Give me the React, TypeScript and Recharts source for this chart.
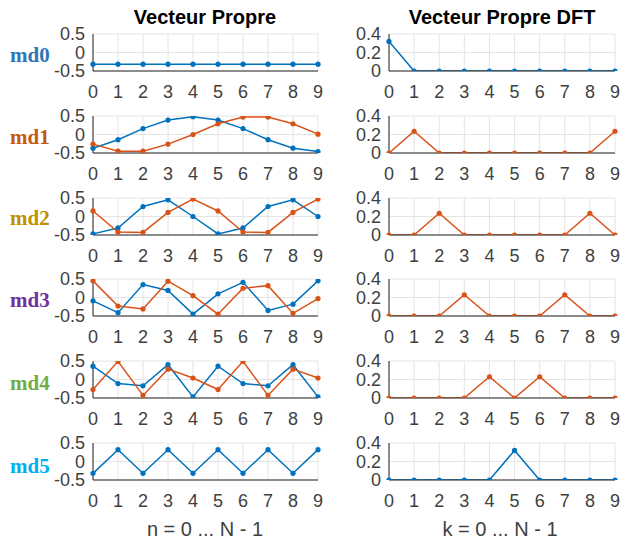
import { CartesianGrid, Line, LineChart, XAxis, YAxis } from "recharts";

// MATLAB default line colours
const BLUE = "#0072BD";
const ORANGE = "#D95319";
const AXIS = "#262626";
const TICK = "#404040";
const GRID = "#e4e4e4";
const SANS = "'Liberation Sans', Arial, Helvetica, sans-serif";
const SERIF = "'Liberation Serif', 'Times New Roman', serif";

const IDX = [0, 1, 2, 3, 4, 5, 6, 7, 8, 9];

const ROW_NAMES = ["md0", "md1", "md2", "md3", "md4", "md5"];
const ROW_COLORS = ["#2E75B6", "#C55A11", "#BF9000", "#7030A0", "#70AD47", "#00B0F0"];

const LEFT_TICKS = [-0.5, 0, 0.5];
const RIGHT_TICKS = [0, 0.2, 0.4];

// eigenvectors (left column)
const MD0_A = [-0.316, -0.316, -0.316, -0.316, -0.316, -0.316, -0.316, -0.316, -0.316, -0.316];
const MD1_A = [-0.37, -0.14, 0.16, 0.39, 0.48, 0.39, 0.16, -0.14, -0.37, -0.46];
const MD1_B = [-0.26, -0.45, -0.45, -0.26, 0, 0.29, 0.47, 0.47, 0.29, 0.01];
const MD2_A = [-0.47, -0.31, 0.27, 0.45, 0, -0.47, -0.31, 0.27, 0.45, 0];
const MD2_B = [0.15, -0.42, -0.43, 0.11, 0.47, 0.15, -0.42, -0.43, 0.11, 0.47];
const MD3_A = [-0.09, -0.41, 0.35, 0.19, -0.45, 0.1, 0.41, -0.35, -0.18, 0.45];
const MD3_B = [0.45, -0.23, -0.31, 0.44, 0.05, -0.45, 0.25, 0.32, -0.43, -0.03];
const MD4_A = [0.36, -0.11, -0.17, 0.4, -0.47, 0.36, -0.11, -0.17, 0.4, -0.47];
const MD4_B = [-0.27, 0.49, -0.43, 0.28, 0.04, -0.27, 0.49, -0.43, 0.28, 0.04];
const MD5_A = [-0.32, 0.32, -0.32, 0.32, -0.32, 0.32, -0.32, 0.32, -0.32, 0.32];

// |DFT| of the eigenvectors (right column)
const DFT0 = [0.32, 0, 0, 0, 0, 0, 0, 0, 0, 0];
const DFT1 = [0, 0.235, 0, 0, 0, 0, 0, 0, 0, 0.235];
const DFT2 = [0, 0, 0.235, 0, 0, 0, 0, 0, 0.235, 0];
const DFT3 = [0, 0, 0, 0.23, 0, 0, 0, 0.23, 0, 0];
const DFT4 = [0, 0, 0, 0, 0.23, 0, 0.23, 0, 0, 0];
const DFT5 = [0, 0, 0, 0, 0, 0.32, 0, 0, 0, 0];

type Series = { values: number[]; color: string };

const LEFT_SERIES: Series[][] = [
  [{ values: MD0_A, color: BLUE }],
  [{ values: MD1_A, color: BLUE }, { values: MD1_B, color: ORANGE }],
  [{ values: MD2_A, color: BLUE }, { values: MD2_B, color: ORANGE }],
  [{ values: MD3_A, color: BLUE }, { values: MD3_B, color: ORANGE }],
  [{ values: MD4_A, color: BLUE }, { values: MD4_B, color: ORANGE }],
  [{ values: MD5_A, color: BLUE }],
];

const RIGHT_SERIES: Series[][] = [
  [{ values: DFT0, color: BLUE }],
  [{ values: DFT1, color: ORANGE }],
  [{ values: DFT2, color: ORANGE }],
  [{ values: DFT3, color: ORANGE }],
  [{ values: DFT4, color: ORANGE }],
  [{ values: DFT5, color: BLUE }],
];

// layout
const ROW_TOP0 = 34;
const ROW_STEP = 81.8;
const PLOT_H = 37;
const L_X = 93;
const L_W = 225;
const R_X = 389;
const R_W = 226;
const Y_AXIS_W = 50;
const M_TOP = 14;
const M_RIGHT = 6;
const X_AXIS_H = 34;
const LABEL_BASE = [61.7, 144, 225, 306.7, 390, 472.7];

function SmallPlot({
  x,
  y,
  w,
  series,
  domain,
  yTicks,
}: {
  x: number;
  y: number;
  w: number;
  series: Series[];
  domain: [number, number];
  yTicks: number[];
}) {
  const data = IDX.map((n, i) => {
    const row: Record<string, number> = { n };
    series.forEach((s, j) => (row["s" + j] = s.values[i]));
    return row;
  });
  const tick = { fill: TICK, fontSize: 18, fontFamily: SANS };
  return (
    <div style={{ position: "absolute", left: x - Y_AXIS_W, top: y - M_TOP }}>
      <LineChart
        width={Y_AXIS_W + w + M_RIGHT}
        height={M_TOP + PLOT_H + X_AXIS_H}
        data={data}
        margin={{ top: M_TOP, right: M_RIGHT, bottom: 0, left: 0 }}
      >
        <CartesianGrid stroke={GRID} strokeWidth={1} />
        <XAxis
          dataKey="n"
          type="number"
          domain={[0, 9]}
          ticks={IDX}
          interval={0}
          height={X_AXIS_H}
          tickSize={0}
          tickMargin={14}
          tick={tick}
          stroke={AXIS}
        />
        <YAxis
          type="number"
          domain={domain}
          ticks={yTicks}
          interval={0}
          width={Y_AXIS_W}
          tickSize={0}
          tickMargin={8}
          tick={tick}
          stroke={AXIS}
          allowDataOverflow
        />
        {series.map((s, j) => (
          <Line
            key={j}
            dataKey={"s" + j}
            type="linear"
            stroke={s.color}
            strokeWidth={1.5}
            dot={{ r: 2.6, fill: s.color, stroke: "none" }}
            activeDot={false}
            isAnimationActive={false}
          />
        ))}
      </LineChart>
    </div>
  );
}

export default function App() {
  return (
    <div style={{ position: "absolute", left: 0, top: 0, width: 620, height: 541, background: "#fff" }}>
      {ROW_NAMES.map((_, i) => {
        const top = Math.round(ROW_TOP0 + i * ROW_STEP);
        return (
          <div key={i}>
            <SmallPlot x={L_X} y={top} w={L_W} series={LEFT_SERIES[i]} domain={[-0.5, 0.5]} yTicks={LEFT_TICKS} />
            <SmallPlot x={R_X} y={top} w={R_W} series={RIGHT_SERIES[i]} domain={[0, 0.4]} yTicks={RIGHT_TICKS} />
          </div>
        );
      })}
      <svg width={620} height={541} style={{ position: "absolute", left: 0, top: 0, pointerEvents: "none" }}>
        <text x={205} y={24} textAnchor="middle" fontFamily={SANS} fontWeight="bold" fontSize={20} fill="#000">
          Vecteur Propre
        </text>
        <text x={502} y={24} textAnchor="middle" fontFamily={SANS} fontWeight="bold" fontSize={20} fill="#000">
          Vecteur Propre DFT
        </text>
        {ROW_NAMES.map((name, i) => (
          <text key={name} x={10} y={LABEL_BASE[i]} fontFamily={SERIF} fontWeight="bold" fontSize={21} fill={ROW_COLORS[i]}>
            {name}
          </text>
        ))}
        <text x={205} y={536} textAnchor="middle" fontFamily={SANS} fontSize={20} fill={TICK}>
          n = 0 ... N - 1
        </text>
        <text x={500} y={536} textAnchor="middle" fontFamily={SANS} fontSize={20} fill={TICK}>
          k = 0 ... N - 1
        </text>
      </svg>
    </div>
  );
}
